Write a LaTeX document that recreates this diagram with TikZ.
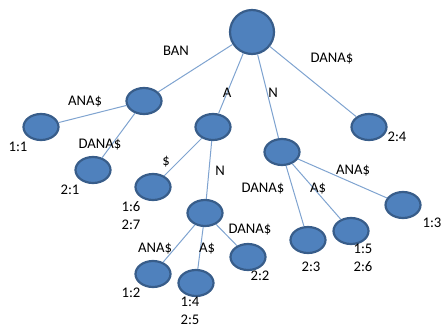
\documentclass[tikz,border=0pt]{standalone}
\usepackage{fontspec}
\setmainfont{Carlito}
\usetikzlibrary{shapes.geometric}
\definecolor{nodefill}{HTML}{4F81BD}
\definecolor{nodeline}{HTML}{385D8A}
\definecolor{edgeline}{HTML}{7FA3D0}
\tikzset{
  vert/.style={ellipse, draw=nodeline, fill=nodefill, line width=2.2pt,
    minimum width=35pt, minimum height=26pt, inner sep=0pt},
  rootvert/.style={vert, circle, minimum size=44pt},
  lbl/.style={font=\fontsize{14.7}{18}\selectfont, inner sep=0pt, align=center},
  tedge/.style={draw=edgeline, line width=1pt}
}

\begin{document}
\begin{tikzpicture}[x=1pt, y=-1pt]
\useasboundingbox (0,0) rectangle (443,327);
% vertices
\node[rootvert] (root) at (252,32) {};
\node[vert] (ban) at (144,101) {};
\node[vert] (a) at (213,127) {};
\node[vert] (n) at (282,152) {};
\node[vert] (an) at (205,213) {};
\node[vert] (l11) at (41,127) {};
\node[vert] (l21) at (93,170) {};
\node[vert] (l24) at (369,127) {};
\node[vert] (l16) at (153,187) {};
\node[vert] (l12) at (153,274) {};
\node[vert] (l14) at (196,283) {};
\node[vert] (l22) at (248,257) {};
\node[vert] (l23) at (308,240) {};
\node[vert] (l15) at (351,231) {};
\node[vert] (l13) at (403,205) {};
% edges
\draw[tedge] (root) -- (ban);
\draw[tedge] (root) -- (a);
\draw[tedge] (root) -- (n);
\draw[tedge] (root) -- (l24);
\draw[tedge] (ban) -- (l11);
\draw[tedge] (ban) -- (l21);
\draw[tedge] (a) -- (l16);
\draw[tedge] (a) -- (an);
\draw[tedge] (an) -- (l12);
\draw[tedge] (an) -- (l14);
\draw[tedge] (an) -- (l22);
\draw[tedge] (n) -- (l23);
\draw[tedge] (n) -- (l15);
\draw[tedge] (n) -- (l13);
% edge labels
\node[lbl] (tban) at (176,51) {BAN};
\node[lbl] (tbanana) at (85,102) {ANA\$};
\node[lbl] (tbandana) at (100,145) {DANA\$};
\node[lbl] (ta) at (227,93) {A};
\node[lbl] (tn) at (273,93) {N};
\node[lbl] (tdana) at (332,59) {DANA\$};
\node[lbl] (tadollar) at (166,162) {\$};
\node[lbl] (tan) at (220,171) {N};
\node[lbl] (tanana) at (155,249) {ANA\$};
\node[lbl] (tana) at (207,249) {A\$};
\node[lbl] (tandana) at (250,230) {DANA\$};
\node[lbl] (tndana) at (263,189) {DANA\$};
\node[lbl] (tna) at (318,189) {A\$};
\node[lbl] (tnana) at (353,171) {ANA\$};
% suffix positions
\node[lbl] (p11) at (18,147) {1:1};
\node[lbl] (p21) at (70,190) {2:1};
\node[lbl] (p24) at (397,137) {2:4};
\node[lbl] (p16) at (131,216) {1:6\\2:7};
\node[lbl] (p12) at (131,293) {1:2};
\node[lbl] (p14) at (190,311) {1:4\\2:5};
\node[lbl] (p22) at (260,276) {2:2};
\node[lbl] (p23) at (311,267) {2:3};
\node[lbl] (p15) at (363,258) {1:5\\2:6};
\node[lbl] (p13) at (432,223) {1:3};
\end{tikzpicture}
\end{document}
